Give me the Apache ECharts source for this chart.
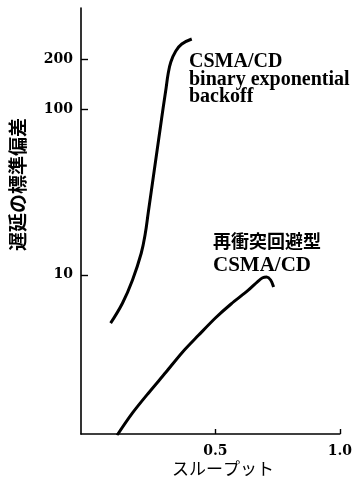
<!DOCTYPE html>
<html>
<head>
<meta charset="utf-8">
<script src="https://cdn.jsdelivr.net/npm/echarts@6/dist/echarts.min.js"></script>
<style>html,body{margin:0;padding:0;background:#fff}#c{width:355px;height:489px}</style>
</head>
<body>
<div id="c"></div>
<script>
// Data
const beb_x = [0.079, 0.127, 0.167, 0.202, 0.218, 0.230, 0.242, 0.254, 0.266, 0.278, 0.290, 0.302, 0.310, 0.321, 0.341, 0.365, 0.405];
const beb_y = [5.1, 6.75, 9.3, 13.5, 17.65, 23.65, 31.7, 42.5, 56.9, 76.2, 102, 135, 164, 194, 226, 249, 267];
const rca_x = [0.105, 0.167, 0.234, 0.302, 0.365, 0.433, 0.500, 0.563, 0.631, 0.670, 0.690, 0.706, 0.722, 0.734];
const rca_y = [1.07, 1.46, 1.95, 2.58, 3.37, 4.32, 5.48, 6.66, 8.04, 9.1, 9.6, 9.7, 9.3, 8.44];
const xTicks = [0.5, 1.0];
const yTicks = [10, 100, 200];
const xName = 'スループット';
const yName = '遅延の標準偏差';
const label1 = ['CSMA/CD', 'binary exponential', 'backoff'];
const label2 = ['再衝突回避型', 'CSMA/CD'];

const pair = (xs, ys) => xs.map((x, i) => [x, ys[i]]);
const serif = 'DejaVu Serif';
const tserif = '"Liberation Serif"';
const cjk = '"Noto Sans CJK JP"';

const chart = echarts.init(document.getElementById('c'), null, {renderer: 'canvas'});
chart.setOption({
  animation: false,
  backgroundColor: '#fff',
  grid: {left: 81, right: 12, top: 8, bottom: 55, containLabel: false},
  xAxis: {
    type: 'value', min: -0.04, max: 1.0,
    axisLine: {show: true, onZero: false, lineStyle: {color: '#000', width: 1.6}},
    axisTick: {show: true, inside: true, length: 5, customValues: xTicks, lineStyle: {color: '#000', width: 1.4}},
    axisLabel: {show: true, customValues: xTicks, margin: 10, color: '#000', fontFamily: serif, fontWeight: 'bold', fontSize: 14,
      formatter: v => Number(v).toFixed(1)},
    splitLine: {show: false}
  },
  yAxis: {
    type: 'log', logBase: 10, min: 1.089, max: 411,
    axisLine: {show: true, onZero: false, lineStyle: {color: '#000', width: 1.6}},
    axisTick: {show: true, inside: true, length: 7, customValues: yTicks, lineStyle: {color: '#000', width: 1.4}},
    axisLabel: {show: true, customValues: yTicks, margin: 8, color: '#000', fontFamily: serif, fontWeight: 'bold', fontSize: 14,
      formatter: v => String(Math.round(v))},
    splitLine: {show: false}
  },
  series: [
    {type: 'line', data: pair(beb_x, beb_y), smooth: 0.4, showSymbol: false, clip: true,
      lineStyle: {color: '#000', width: 3}},
    {type: 'line', data: pair(rca_x, rca_y), smooth: 0.3, showSymbol: false, clip: true,
      lineStyle: {color: '#000', width: 3}}
  ],
  graphic: [
    {type: 'text', left: 189, top: 52, style: {text: label1.join('\n'), fill: '#000', font: 'bold 20px ' + tserif, lineHeight: 17.5}},
    {type: 'text', left: 213, top: 232, style: {text: label2[0], fill: '#000', font: 'bold 18px ' + cjk}},
    {type: 'text', left: 213, top: 255, style: {text: label2[1], fill: '#000', font: 'bold 21px ' + tserif}},
    {type: 'text', left: 172, top: 460, style: {text: xName, fill: '#000', font: '17px ' + cjk}},
    {type: 'text', x: 18, y: 251, rotation: Math.PI / 2, style: {text: yName, fill: '#000', font: 'bold 19px ' + cjk, textVerticalAlign: 'middle', textAlign: 'left'}}
  ]
});
</script>
</body>
</html>
